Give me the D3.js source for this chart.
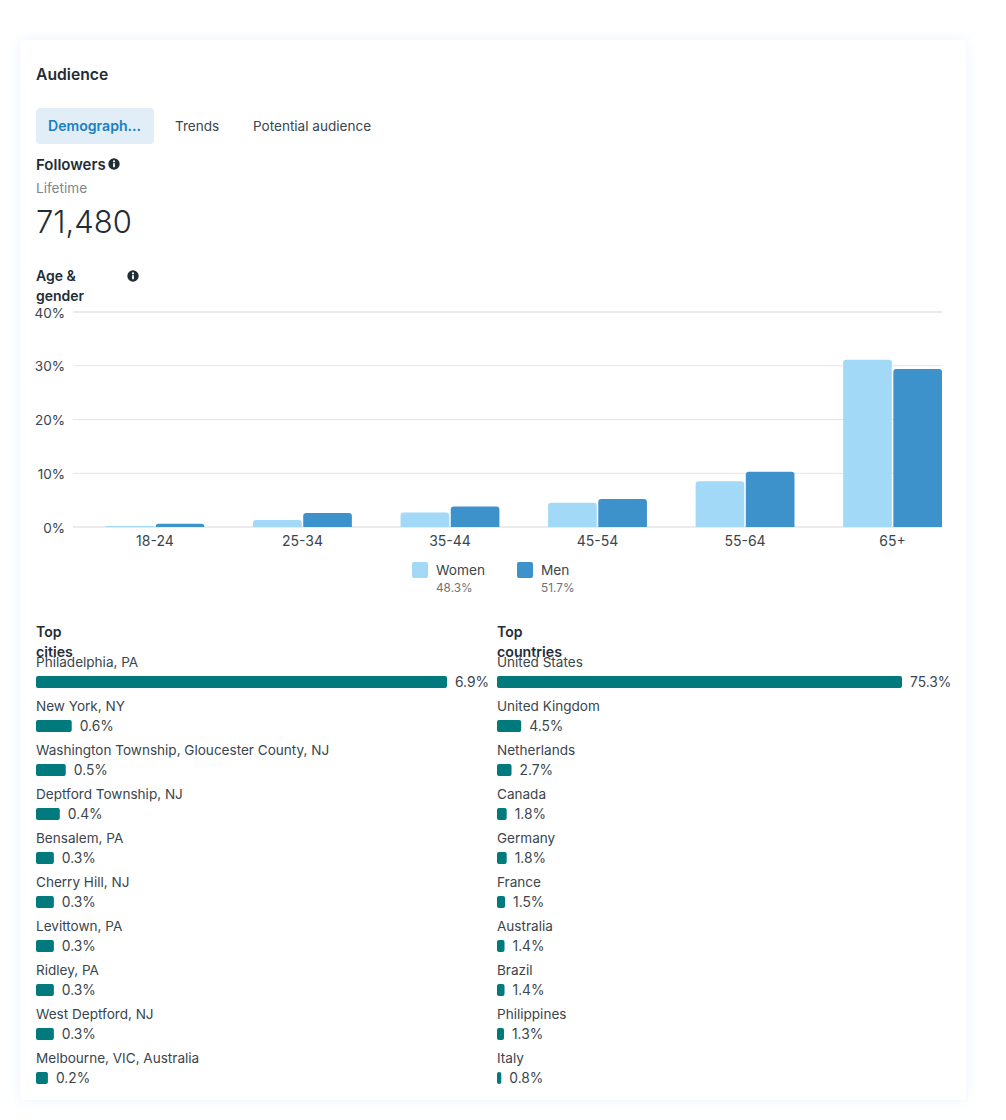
<!DOCTYPE html>
<html>
<head>
<meta charset="utf-8">
<title>Audience</title>
<script src="https://cdn.jsdelivr.net/npm/d3@7"></script>
<style>
  html, body { margin: 0; background: #fff; }
  svg { display: block; }
  text { font-family: Inter, "Noto Sans", sans-serif; fill: #2f3a42; }
</style>
</head>
<body>
<svg id="chart" width="1006" height="1120"></svg>
<script>
const ageGroups = ["18-24", "25-34", "35-44", "45-54", "55-64", "65+"];
const womenShare = [0.2, 1.3, 2.7, 4.5, 8.5, 31.1];
const menShare = [0.6, 2.6, 3.8, 5.2, 10.3, 29.4];
const axisTicks = [0, 10, 20, 30, 40];
const genderLegend = ["Women", "Men"];
const genderTotals = ["48.3%", "51.7%"];

const cityNames = ["Philadelphia, PA", "New York, NY", "Washington Township, Gloucester County, NJ", "Deptford Township, NJ", "Bensalem, PA", "Cherry Hill, NJ", "Levittown, PA", "Ridley, PA", "West Deptford, NJ", "Melbourne, VIC, Australia"];
const cityShare = [6.9, 0.6, 0.5, 0.4, 0.3, 0.3, 0.3, 0.3, 0.3, 0.2];
const countryNames = ["United States", "United Kingdom", "Netherlands", "Canada", "Germany", "France", "Australia", "Brazil", "Philippines", "Italy"];
const countryShare = [75.3, 4.5, 2.7, 1.8, 1.8, 1.5, 1.4, 1.4, 1.3, 0.8];

const INK = "#1f2d36", BODY = "#3a454d", MUTED = "#7e868c";
const LIGHT = "#a2d9f7", BLUE = "#3e92cc", TEAL = "#007a7c";
const BASE = 13.55;
const svg = d3.select("#chart");

// Card with its faint blue halo
const defs = svg.append("defs");
const halo = defs.append("filter").attr("id", "halo")
  .attr("x", "-5%").attr("y", "-5%").attr("width", "110%").attr("height", "110%");
halo.append("feDropShadow").attr("dx", 0).attr("dy", 0).attr("stdDeviation", 7)
  .attr("flood-color", "#cfdcff").attr("flood-opacity", 0.38);
svg.append("rect").attr("x", 20).attr("y", 40).attr("width", 946).attr("height", 1060)
  .attr("rx", 4).attr("fill", "#fff").attr("filter", "url(#halo)");

function label(x, y, str, size, weight, color, anchor) {
  return svg.append("text").attr("x", x).attr("y", y).text(str)
    .attr("font-size", size).attr("font-weight", weight || 400)
    .style("fill", color || BODY).attr("text-anchor", anchor || "start");
}
function infoIcon(cx, cy) {
  svg.append("circle").attr("cx", cx).attr("cy", cy).attr("r", 5.7).attr("fill", INK);
  svg.append("rect").attr("x", cx - 0.9).attr("y", cy - 0.8).attr("width", 1.8).attr("height", 4).attr("fill", "#fff");
  svg.append("circle").attr("cx", cx).attr("cy", cy - 2.7).attr("r", 1.1).attr("fill", "#fff");
}
// Rectangle with only its top corners rounded
function roundedTop(x, y, w, h, r) {
  const k = Math.min(r, h, w / 2);
  return `M${x},${y + h}V${y + k}Q${x},${y} ${x + k},${y}H${x + w - k}Q${x + w},${y} ${x + w},${y + k}V${y + h}Z`;
}

// Header
label(36, 80, "Audience", 15.7, 600, INK);
svg.append("rect").attr("x", 36).attr("y", 108).attr("width", 118).attr("height", 36).attr("rx", 4).attr("fill", "#e1edf7");
label(48, 131, "Demograph...", 14.1, 600, "#1a7fc1");
label(175, 131, "Trends", BASE, 400, BODY);
label(253, 131, "Potential audience", BASE, 400, BODY);
label(36, 169.5, "Followers", 15, 600, INK);
infoIcon(114, 164);
label(36, 193, "Lifetime", 13.6, 400, MUTED);
label(36, 232.5, "71,480", 31, 300, INK);

label(36, 281, "Age &", 14, 600, INK);
label(36, 301, "gender", 14, 600, INK);
infoIcon(133, 276);

// Age and gender bars
const x0 = d3.scaleBand().domain(ageGroups).range([105.5, 942]).paddingInner(0.33);
const x1 = d3.scaleBand().domain(genderLegend).range([0, x0.bandwidth()]).paddingInner(0.03);
const y = d3.scaleLinear().domain([0, 40]).range([527, 312]);
const gridLeft = 73, gridRight = x0.range()[1];

axisTicks.forEach(t => {
  svg.append("line").attr("x1", gridLeft).attr("x2", gridRight)
    .attr("y1", y(t)).attr("y2", y(t))
    .attr("stroke", "#e3e5e7").attr("stroke-width", t === 0 || t === 40 ? 1.6 : 1.2);
  label(65, y(t) + 5.5, t + "%", BASE, 400, BODY, "end");
});
[[womenShare, genderLegend[0], LIGHT], [menShare, genderLegend[1], BLUE]].forEach(([vals, key, color]) => {
  svg.append("g").selectAll("path").data(vals).join("path")
    .attr("fill", color)
    .attr("d", (v, i) => roundedTop(x0(ageGroups[i]) + x1(key), y(v), x1.bandwidth(), y(0) - y(v), 3));
});
ageGroups.forEach(g => label(x0(g) + x0.bandwidth() / 2, 546, g, 14, 400, BODY, "middle"));

// Legend
const legendX = d3.scaleOrdinal().domain(genderLegend).range([412, 517]);
genderLegend.forEach((g, i) => {
  const lx = legendX(g);
  svg.append("rect").attr("x", lx).attr("y", 562).attr("width", 16).attr("height", 16).attr("rx", 2)
    .attr("fill", i === 0 ? LIGHT : BLUE);
  label(lx + 24, 575, g, 13.7, 400, BODY);
  label(lx + 24, 592, genderTotals[i], 11.8, 400, "#6b747a");
});

// Ranked horizontal lists
function ranking(left, heading, names, values, widthAtMax) {
  const rows = d3.scaleBand().domain(names).range([652, 652 + 44 * names.length]);
  const w = d3.scaleLinear().domain([0, d3.max(values)]).range([0, widthAtMax]);
  label(left, 637, "Top", 14, 600, INK);
  label(left, 657, heading, 14.2, 600, INK);
  names.forEach((n, i) => {
    const top = rows(n);
    label(left, top + 15, n, BASE, 400, BODY);
    svg.append("rect").attr("x", left).attr("y", top + 24)
      .attr("width", w(values[i])).attr("height", 12)
      .attr("rx", Math.min(2, w(values[i]) / 2)).attr("fill", TEAL);
    label(left + w(values[i]) + 8, top + 35, values[i].toFixed(1) + "%", 13.8, 400, BODY);
  });
}
ranking(36, "cities", cityNames, cityShare, 411);
ranking(497, "countries", countryNames, countryShare, 405);
</script>
</body>
</html>
